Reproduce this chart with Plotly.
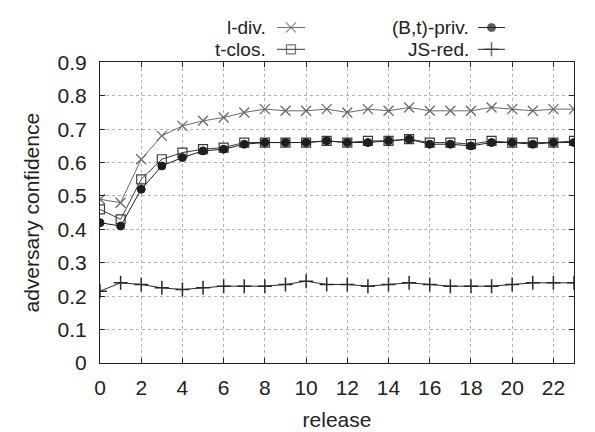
import plotly.graph_objects as go

release = list(range(24))
l_div = [0.49, 0.48, 0.61, 0.68, 0.71, 0.725, 0.735, 0.75, 0.76, 0.755, 0.755, 0.76,
         0.75, 0.76, 0.755, 0.765, 0.755, 0.755, 0.755, 0.765, 0.76, 0.755, 0.76, 0.76]
t_clos = [0.46, 0.43, 0.55, 0.61, 0.63, 0.64, 0.645, 0.66, 0.66, 0.66, 0.66, 0.665,
          0.66, 0.665, 0.665, 0.67, 0.66, 0.66, 0.655, 0.665, 0.66, 0.66, 0.66, 0.665]
bt_priv = [0.42, 0.41, 0.52, 0.59, 0.615, 0.635, 0.64, 0.655, 0.66, 0.66, 0.66, 0.665,
           0.66, 0.66, 0.665, 0.67, 0.655, 0.655, 0.65, 0.66, 0.66, 0.655, 0.66, 0.66]
js_red = [0.215, 0.24, 0.235, 0.225, 0.22, 0.225, 0.23, 0.23, 0.23, 0.235, 0.245, 0.235,
          0.235, 0.23, 0.235, 0.24, 0.235, 0.23, 0.23, 0.23, 0.235, 0.24, 0.24, 0.24]
x_ticks = list(range(0, 24, 2))
y_ticks = [0, 0.1, 0.2, 0.3, 0.4, 0.5, 0.6, 0.7, 0.8, 0.9]
y_ticktext = ["0", "0.1", "0.2", "0.3", "0.4", "0.5", "0.6", "0.7", "0.8", "0.9"]

FONT = "Liberation Sans, Arial, sans-serif"
FS = 21
LFS = 19

series = [
    ("l-div.", l_div, "#6a6a6a", "x-thin-open", 10, 1.3),
    ("t-clos.", t_clos, "#3a3a3a", "square-open", 9, 1.2),
    ("(B,t)-priv.", bt_priv, "#1e1e1e", "circle", 8, 1.0),
    ("JS-red.", js_red, "#2a2a2a", "cross-thin-open", 10, 1.5),
]

fig = go.Figure()
for name, ys, col, sym, sz, mlw in series:
    fig.add_trace(go.Scatter(
        x=release, y=ys, mode="lines+markers", name=name,
        line=dict(color=col, width=1),
        marker=dict(symbol=sym, size=sz, color=col, line=dict(color=col, width=mlw)),
        showlegend=False))

# legend area (gnuplot style: text then sample line on the right), drawn on a
# separate pixel-scaled axis pair above the plot
leg = [
    (0, 268, 277, 305, 16),
    (1, 268, 277, 305, 38.5),
    (2, 471, 478, 505, 16),
    (3, 471, 478, 505, 38.5),
]
for idx, tx, x0, x1, yy in leg:
    name, ys, col, sym, sz, mlw = series[idx]
    fig.add_annotation(x=tx, y=yy, xref="x2", yref="y2", text=name,
                       showarrow=False, xanchor="right", yanchor="middle",
                       font=dict(family=FONT, size=LFS, color="#222"))
    fig.add_trace(go.Scatter(
        x=[x0, (x0 + x1) / 2, x1], y=[yy, yy, yy], xaxis="x2", yaxis="y2",
        mode="lines+markers", showlegend=False, hoverinfo="skip",
        line=dict(color=col, width=1),
        marker=dict(symbol=sym, size=[0, sz, 0], color=col, line=dict(color=col, width=mlw))))

H, T, B = 432, 3, 69
plot_h = H - T - B
main_top = (363 - 52) / plot_h

grid = dict(showgrid=True, gridcolor="#b0b0b0", griddash="dot", gridwidth=1)
fig.update_layout(
    width=595, height=H,
    margin=dict(l=100, r=21, t=T, b=B),
    paper_bgcolor="white", plot_bgcolor="white",
    font=dict(family=FONT, size=FS, color="#222"),
    xaxis=dict(range=[0, 23], tickvals=x_ticks, ticks="inside", ticklen=5,
               tickcolor="#222", showline=True, linecolor="#222", linewidth=1,
               mirror="ticks", zeroline=False, ticklabelstandoff=6,
               tickfont=dict(size=FS),
               title=dict(text="release", font=dict(size=FS), standoff=14), **grid),
    yaxis=dict(domain=[0, main_top], range=[0, 0.9], tickvals=y_ticks, ticktext=y_ticktext,
               ticks="inside", ticklen=5,
               tickcolor="#222", showline=True, linecolor="#222", linewidth=1,
               mirror="ticks", zeroline=False, ticklabelstandoff=8,
               tickfont=dict(size=FS),
               title=dict(text="adversary confidence", font=dict(size=FS), standoff=12), **grid),
    xaxis2=dict(range=[100, 574], anchor="y2", visible=False, fixedrange=True),
    yaxis2=dict(domain=[main_top + 0.002, 1], range=[363 - (main_top + 0.002) * plot_h, T],
                anchor="x2", visible=False, fixedrange=True),
)
fig.write_html("out.html")
